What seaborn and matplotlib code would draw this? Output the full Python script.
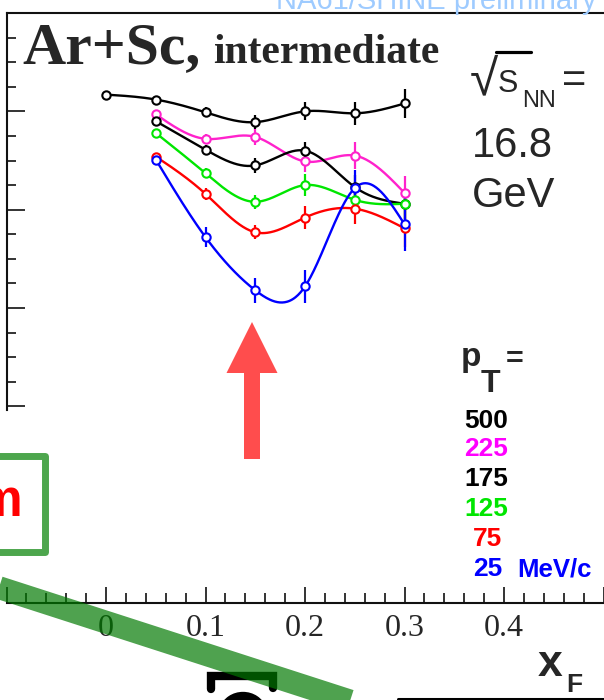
import numpy as np
import pandas as pd
import matplotlib
matplotlib.use("Agg")
import matplotlib.pyplot as plt
import seaborn as sns
from matplotlib import transforms
from matplotlib.patches import Rectangle, FancyArrow, Arc
from matplotlib.lines import Line2D

# ---------------- data ----------------
xF_all = [0.00, 0.05, 0.10, 0.15, 0.20, 0.25, 0.30]
xF = [0.05, 0.10, 0.15, 0.20, 0.25, 0.30]

pt500 = [0.917, 0.912, 0.899, 0.889, 0.900, 0.898, 0.908]
err500 = [0.003, 0.004, 0.005, 0.007, 0.009, 0.012, 0.015]

pt225 = [0.897, 0.872, 0.874, 0.849, 0.855, 0.817]
err225 = [0.003, 0.005, 0.008, 0.011, 0.014, 0.017]

pt175 = [0.890, 0.861, 0.845, 0.860, 0.823, 0.806]
err175 = [0.003, 0.005, 0.008, 0.009, 0.012, 0.015]

pt125 = [0.878, 0.837, 0.808, 0.825, 0.810, 0.806]
err125 = [0.003, 0.005, 0.007, 0.011, 0.013, 0.015]

pt75 = [0.854, 0.816, 0.777, 0.792, 0.801, 0.781]
err75 = [0.003, 0.006, 0.007, 0.012, 0.016, 0.019]

pt25 = [0.851, 0.772, 0.718, 0.722, 0.822, 0.785]
err25 = [0.004, 0.010, 0.013, 0.017, 0.018, 0.027]

pt_labels = ["500", "225", "175", "125", "75", "25"]
x_tick_labels = ["0", "0.1", "0.2", "0.3", "0.4"]

series = [
    (xF_all, pt500, err500, "black"),
    (xF, pt225, err225, "#ff22cc"),
    (xF, pt175, err175, "black"),
    (xF, pt125, err125, "#00e600"),
    (xF, pt75, err75, "#ff0000"),
    (xF, pt25, err25, "#0000ff"),
]
legend_colors = ["black", "#ff00ff", "black", "#00e600", "#ff0000", "#0000ff"]


def natural_spline(x, y, n=300):
    x = np.asarray(x, float)
    y = np.asarray(y, float)
    m = len(x)
    h = np.diff(x)
    A = np.zeros((m, m))
    b = np.zeros(m)
    A[0, 0] = 1.0
    A[-1, -1] = 1.0
    for i in range(1, m - 1):
        A[i, i - 1] = h[i - 1]
        A[i, i] = 2 * (h[i - 1] + h[i])
        A[i, i + 1] = h[i]
        b[i] = 3 * ((y[i + 1] - y[i]) / h[i] - (y[i] - y[i - 1]) / h[i - 1])
    c = np.linalg.solve(A, b)
    bb = (y[1:] - y[:-1]) / h - h * (2 * c[:-1] + c[1:]) / 3
    d = (c[1:] - c[:-1]) / (3 * h)
    xs = np.linspace(x[0], x[-1], n)
    idx = np.clip(np.searchsorted(x, xs, side="right") - 1, 0, m - 2)
    dx = xs - x[idx]
    ys = y[idx] + bb[idx] * dx + c[idx] * dx ** 2 + d[idx] * dx ** 3
    return xs, ys


# ---------------- figure ----------------
sns.set_theme(style="white")
plt.rcParams["font.family"] = ["Liberation Sans", "DejaVu Sans"]

W, H = 604, 700
fig = plt.figure(figsize=(W / 100, H / 100), dpi=100)
fig.patch.set_facecolor("white")
px = transforms.Affine2D().scale(1 / W, -1 / H).translate(0, 1) + fig.transFigure

ax = fig.add_axes([6.5 / W, 97 / H, 617 / W, 590 / H])
ax.set_facecolor("white")
ax.set_xlim(-0.1, 0.52)
ax.set_ylim(0.4, 1.0)

for xs_, ys_, es_, col in series:
    sx, sy = natural_spline(xs_, ys_)
    sns.lineplot(x=sx, y=sy, color=col, lw=1.7, ax=ax, sort=False, zorder=3)
    ax.errorbar(xs_, ys_, yerr=es_, fmt="none", ecolor=col, elinewidth=1.6,
                capsize=0, zorder=4)
    ax.plot(xs_, ys_, "o", ms=6, mfc="white", mec=col, mew=1.5, zorder=5)

# axes styling (ROOT like)
for s in ["left", "bottom", "top"]:
    ax.spines[s].set_color("#111111")
    ax.spines[s].set_linewidth(1.5)
ax.spines["right"].set_visible(False)
ax.spines["left"].set_bounds(0.596, 1.0)

ax.set_xticks(np.arange(-0.1, 0.501, 0.1))
ax.set_xticklabels([""] + x_tick_labels + [""])
ax.set_xticks(np.arange(-0.1, 0.521, 0.02), minor=True)
ax.set_yticks([0.6, 0.7, 0.8, 0.9, 1.0])
ax.set_yticks(np.arange(0.6, 1.0001, 0.025), minor=True)
ax.tick_params(axis="both", which="both", direction="in", color="#111111",
               bottom=True, left=True, top=False, right=False)
ax.tick_params(axis="x", which="major", length=11.5, width=1.2,
               labelsize=23, pad=8)
ax.tick_params(axis="x", which="minor", length=7, width=1.2)
ax.tick_params(axis="y", which="major", length=13, width=1.2, labelleft=False)
ax.tick_params(axis="y", which="minor", length=6.5, width=1.2)
for lab in ax.get_xticklabels():
    lab.set_fontfamily(["Liberation Serif", "DejaVu Serif"])
ax.grid(False)


def ftext(x, y, s, **kw):
    kw.setdefault("va", "baseline")
    kw.setdefault("ha", "left")
    return fig.text(x, y, s, transform=px, **kw)


serif_b = dict(family=["Liberation Serif", "DejaVu Serif"], weight="bold")
sans = dict(family=["Liberation Sans", "DejaVu Sans"])
sans_b = dict(family=["Liberation Sans", "DejaVu Sans"], weight="bold")

# title
ftext(22, 63, "Ar+Sc,", fontsize=43, **serif_b)
ftext(213, 63, "intermediate", fontsize=30, **serif_b)

# preliminary (cut at top)
ftext(276, 9, "NA61/SHINE preliminary", fontsize=21, color="#9ecbff", **sans)

# sqrt(s_NN) = 16.8 GeV
ftext(470, 94, "\u221a", fontsize=37, **sans)
ftext(498, 92, "S", fontsize=22, **sans)
ftext(522, 107, "NN", fontsize=17, **sans)
ftext(562, 92, "=", fontsize=30, **sans)
fig.add_artist(Line2D([496, 531], [51.5, 51.5], transform=px, color="black",
                      lw=2.3, zorder=6))
ftext(472, 157, "16.8", fontsize=30, **sans)
ftext(472, 207, "GeV", fontsize=30, **sans)

# pT legend
ftext(461, 366, "p", fontsize=24, **sans_b)
ftext(481, 392, "T", fontsize=23, **sans_b)
ftext(506, 368, "=", fontsize=22, **sans_b)
ys_leg = [418, 447, 477, 507, 537, 567]
xr_leg = [508, 508, 508, 508, 502, 502]
for lab, col, yy, xr in zip(pt_labels, legend_colors, ys_leg, xr_leg):
    ftext(xr, yy, lab, fontsize=19, color=col, ha="right", va="center_baseline",
          **sans_b)
ftext(517, 567, "MeV/c", fontsize=18.5, color="#0000ff", va="center_baseline",
      **sans_b)

# x axis title
ftext(538, 676, "x", fontsize=32, **sans_b)
ftext(566, 692, "F", fontsize=19, **sans_b)

# red arrow
fig.add_artist(FancyArrow(252, 459, 0, -137, width=16, head_width=51,
                          head_length=51, length_includes_head=True,
                          transform=px, color="#ff4d4d", lw=0, zorder=6))

# green box with red text on the left
fig.add_artist(Rectangle((-20, 455.5), 64.5, 96, transform=px, fill=False,
                         edgecolor="#4da64d", lw=5, joinstyle="round", zorder=6))
ftext(22, 516, "m", fontsize=37, color="#ff0000", ha="right", **sans_b)

# black bits at the bottom
fig.add_artist(Line2D([211, 211, 272.5, 272.5], [689, 676, 676, 688],
                      transform=px, color="black", lw=6, solid_joinstyle="miter",
                      zorder=6))
fig.add_artist(Arc((243, 714), 40, 36, theta1=195, theta2=345, transform=px,
                   color="black", lw=6, zorder=6))
fig.add_artist(Line2D([398, 610], [699, 699], transform=px, color="black",
                      lw=2.2, zorder=6))

# semi-transparent green band across
fig.add_artist(Line2D([-20, 420], [581.5, 723.6], transform=px,
                      color=(0.0, 0.47, 0.0), alpha=0.69, lw=16.5,
                      solid_capstyle="butt", zorder=7))

fig.savefig("out.png", dpi=100, facecolor="white")
